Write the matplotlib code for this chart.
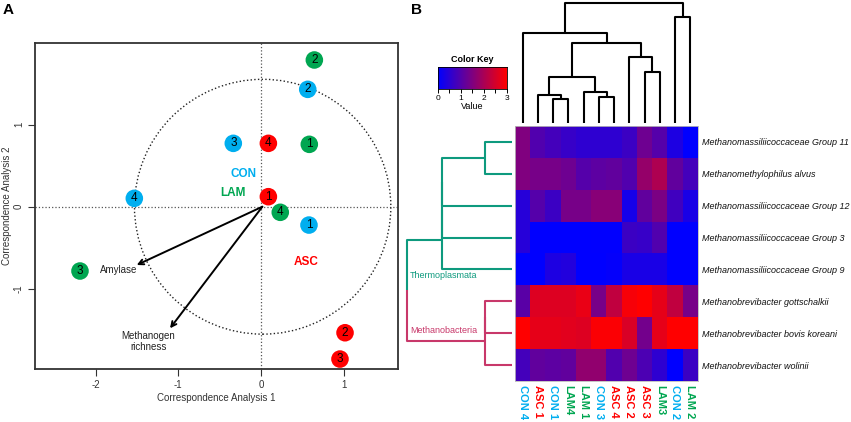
import matplotlib
matplotlib.use('Agg')
import matplotlib.pyplot as plt
from matplotlib.patches import Circle
from matplotlib.colors import LinearSegmentedColormap
import numpy as np

plt.rcParams['font.family'] = ['Liberation Sans', 'DejaVu Sans']
plt.rcParams['axes.unicode_minus'] = False

# ---- panel A: correspondence analysis ----
con_x = [0.580, 0.565, -0.335, -1.532]
con_y = [-0.223, 1.428, 0.771, 0.102]
asc_x = [0.089, 1.016, 0.955, 0.089]
asc_y = [0.122, -1.533, -1.853, 0.771]
lam_x = [0.584, 0.645, -2.189, 0.233]
lam_y = [0.759, 1.785, -0.782, -0.068]
sample_ids = ['1', '2', '3', '4']

group_names = ['CON', 'LAM', 'ASC']
group_label_xy = [(-0.214, 0.398), (-0.335, 0.163), (0.544, -0.676)]

vector_names = ['Amylase', 'Methanogen\nrichness']
vector_xy = [(-1.503, -0.709), (-1.100, -1.479)]
vector_label_xy = [(-1.717, -0.770), (-1.363, -1.642)]

# ---- panel B: heatmap ----
col_labels = ['CON 4', 'ASC 1', 'CON 1', 'LAM4', 'LAM 1', 'CON 3',
              'ASC 4', 'ASC 2', 'ASC 3', 'LAM3', 'CON 2', 'LAM 2']
row_labels = ['Methanomassiliicoccaceae Group 11',
              'Methanomethylophilus alvus',
              'Methanomassiliicoccaceae Group 12',
              'Methanomassiliicoccaceae Group 3',
              'Methanomassiliicoccaceae Group 9',
              'Methanobrevibacter gottschalkii',
              'Methanobrevibacter bovis koreani',
              'Methanobrevibacter wolinii']
hm_values = [
    [1.50, 0.95, 0.80, 0.65, 0.55, 0.55, 0.55, 0.70, 1.30, 1.00, 0.35, 0.00],
    [1.50, 1.40, 1.40, 1.30, 1.00, 1.10, 1.15, 0.95, 1.75, 2.05, 1.15, 0.80],
    [0.45, 1.00, 0.70, 1.40, 1.40, 1.60, 1.60, 0.25, 1.15, 1.45, 0.75, 0.30],
    [0.45, 0.00, 0.00, 0.00, 0.00, 0.02, 0.02, 0.70, 0.65, 0.95, 0.00, 0.00],
    [0.00, 0.00, 0.35, 0.40, 0.00, 0.00, 0.05, 0.30, 0.30, 0.30, 0.00, 0.00],
    [1.05, 2.60, 2.60, 2.60, 2.75, 1.40, 2.25, 2.90, 3.00, 2.70, 2.25, 1.40],
    [3.00, 2.70, 2.70, 2.65, 2.60, 2.95, 2.95, 2.55, 1.35, 2.70, 3.00, 3.00],
    [0.80, 1.15, 1.10, 1.15, 1.70, 1.70, 0.95, 1.30, 0.90, 0.55, 0.00, 0.70],
]
# column dendrogram merges (child a, child b, height); ids >= 12 are earlier merges
col_merges = [(2, 3, 23.7), (1, 12, 28.0), (5, 6, 26.3), (4, 14, 31.3),
              (13, 15, 45.7), (8, 9, 51.3), (7, 17, 66.3), (16, 18, 80.3),
              (0, 19, 89.7), (10, 11, 106.3), (20, 21, 119.7)]
# row dendrogram merges; ids >= 8 are earlier merges
row_merges = [(0, 1, 27.0), (8, 2, 69.7), (9, 3, 69.7), (10, 4, 69.7),
              (5, 6, 27.0), (12, 7, 27.0), (11, 13, 105.3)]
thermo_rows = [0, 1, 2, 3, 4]
methano_rows = [5, 6, 7]

c_con = '#00AEEF'
c_asc = '#FF0000'
c_lam = '#00A651'
c_thermo = '#0E9A7E'
c_methano = '#C8386A'
label_colors = {'CON': c_con, 'ASC': c_asc, 'LAM': c_lam}

W, H = 851, 422
fig = plt.figure(figsize=(W / 100, H / 100), dpi=100)


def px_axes(x0, y0, x1, y1):
    return fig.add_axes([x0 / W, 1 - y1 / H, (x1 - x0) / W, (y1 - y0) / H])


# ---------------- panel A ----------------
ax = px_axes(35, 43.3, 397.7, 369)
ax.set_xlim(-2.733, 1.653)
ax.set_ylim(-1.974, 1.988)
ax.axvline(0, color='#555555', ls=':', lw=0.9, zorder=1)
ax.axhline(0, color='#555555', ls=':', lw=0.9, zorder=1)
ax.add_patch(Circle((0.02, 0), 1.55, fill=False, ls=':', lw=1.0, color='#222222', zorder=1))

for (vx, vy), (lx, ly), name in zip(vector_xy, vector_label_xy, vector_names):
    ax.annotate('', xy=(vx, vy), xytext=(0.016, 0),
                arrowprops=dict(arrowstyle='->', lw=1.4, color='black',
                                mutation_scale=9, shrinkA=0, shrinkB=0), zorder=2)
    ax.text(lx, ly, name, ha='center', va='center', fontsize=7, color='#222222',
            linespacing=1.1)

for xs, ys, c in [(con_x, con_y, c_con), (asc_x, asc_y, c_asc), (lam_x, lam_y, c_lam)]:
    ax.scatter(xs, ys, s=160, color=c, edgecolors='none', zorder=3)
    for x, y, sid in zip(xs, ys, sample_ids):
        ax.text(x, y, sid, ha='center', va='center', fontsize=8.5, color='black', zorder=4)

for name, (gx, gy) in zip(group_names, group_label_xy):
    ax.text(gx, gy, name, ha='center', va='center', fontsize=8.5, fontweight='bold',
            color=label_colors[name])

ax.set_xticks([-2, -1, 0, 1])
ax.set_yticks([-1, 0, 1])
ax.tick_params(labelsize=7, length=5, width=0.8, colors='#333333', pad=3)
for lab in ax.get_yticklabels():
    lab.set_rotation(90)
    lab.set_va('center')
ax.set_xlabel('Correspondence Analysis 1', fontsize=7, color='#333333', labelpad=2)
ax.set_ylabel('Correspondence Analysis 2', fontsize=7, color='#333333', labelpad=1)
for sp in ax.spines.values():
    sp.set_linewidth(1.3)
    sp.set_color('#333333')

fig.text(8 / W, 1 - 10 / H, 'A', fontsize=11, fontweight='bold', ha='center', va='center')
fig.text(417 / W, 1 - 10 / H, 'B', fontsize=11, fontweight='bold', ha='center', va='center')

# ---------------- panel B ----------------
cmap = LinearSegmentedColormap.from_list('bluered', ['#0000FF', '#FF0000'])
ax_hm = px_axes(515, 126, 698, 381)
ax_hm.imshow(np.array(hm_values), cmap=cmap, vmin=0, vmax=3, aspect='auto',
             interpolation='nearest')
ax_hm.set_xticks(range(len(col_labels)))
ax_hm.set_xticklabels(col_labels, rotation=270, fontsize=8, fontweight='bold')
for lab, name in zip(ax_hm.get_xticklabels(), col_labels):
    lab.set_color(label_colors[name[:3]])
    lab.set_va('top')
ax_hm.yaxis.tick_right()
ax_hm.set_yticks(range(len(row_labels)))
ax_hm.set_yticklabels(row_labels, fontsize=6.5, style='italic', color='#111111')
ax_hm.tick_params(length=0, pad=3)
for sp in ax_hm.spines.values():
    sp.set_color('#BBBBBB')
    sp.set_linewidth(0.6)


def leaves_of(merges, n, node):
    if node < n:
        return [node]
    a, b, _ = merges[node - n]
    return leaves_of(merges, n, a) + leaves_of(merges, n, b)


def draw_dendro(axd, merges, n, vertical, color_fn, lw):
    pos = {i: float(i) for i in range(n)}
    hgt = {i: 0.0 for i in range(n)}
    for k, (a, b, h) in enumerate(merges):
        cid = n + k
        pos[cid] = (pos[a] + pos[b]) / 2
        hgt[cid] = h
        for c in (a, b):
            p = [pos[cid], pos[c], pos[c]]
            q = [h, h, hgt[c]]
            if vertical:
                axd.plot(p, q, color=color_fn(c), lw=lw, solid_capstyle='butt', clip_on=False)
            else:
                axd.plot(q, p, color=color_fn(c), lw=lw, solid_capstyle='butt', clip_on=False)


# column dendrogram
ax_cd = px_axes(515, 3, 698, 123)
ax_cd.set_xlim(-0.5, len(col_labels) - 0.5)
ax_cd.set_ylim(0, 120)
draw_dendro(ax_cd, col_merges, len(col_labels), True, lambda c: 'black', 1.5)
ax_cd.axis('off')


# row dendrogram
def row_color(node):
    lv = set(leaves_of(row_merges, len(row_labels), node))
    if lv <= set(thermo_rows):
        return c_thermo
    if lv <= set(methano_rows):
        return c_methano
    return 'black'


ax_rd = px_axes(400, 126, 512, 381)
ax_rd.set_ylim(len(row_labels) - 0.5, -0.5)
ax_rd.set_xlim(112, 0)
draw_dendro(ax_rd, row_merges, len(row_labels), False, row_color, 1.5)
ax_rd.text(102, 4.19, 'Thermoplasmata', fontsize=6.5, color=c_thermo, ha='left', va='center')
ax_rd.text(102, 5.9, 'Methanobacteria', fontsize=6.5, color=c_methano, ha='left', va='center')
ax_rd.axis('off')

# color key
ax_ck = px_axes(437.7, 67.3, 506.7, 89.3)
ax_ck.imshow(np.linspace(0, 3, 256)[None, :], cmap=cmap, vmin=0, vmax=3, aspect='auto',
             extent=(0, 3, 0, 1))
ax_ck.set_yticks([])
ax_ck.set_xticks([0, 1, 2, 3])
ax_ck.set_xticks(np.arange(0, 3.01, 0.5), minor=True)
ax_ck.tick_params(axis='x', which='both', length=3, width=0.7, labelsize=6, pad=1)
ax_ck.set_xlabel('Value', fontsize=6.5, labelpad=0)
ax_ck.set_title('Color Key', fontsize=6.5, fontweight='bold', pad=4)
for sp in ax_ck.spines.values():
    sp.set_linewidth(0.6)

fig.savefig('out.png', dpi=100)
